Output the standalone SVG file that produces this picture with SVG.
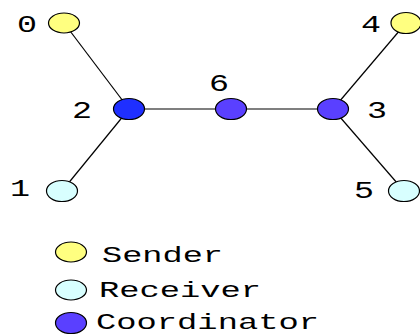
<svg xmlns="http://www.w3.org/2000/svg" width="420" height="336" viewBox="0 0 420 336">
  <style>
    .edge { stroke: #000; stroke-width: 1.2; fill: none; }
    .node { stroke: #000; stroke-width: 1.2; }
    .sender { fill: #ffff80; }
    .receiver { fill: #d8ffff; }
    .coord { fill: #5a40ff; }
    .hub { fill: #1f2fff; }
    .lbl { font-family: "Liberation Mono", "Courier New", monospace; font-size: 24px; fill: #000; }
    .leg { font-family: "Liberation Mono", "Courier New", monospace; font-size: 22px; fill: #000; }
  </style>
  <rect width="420" height="336" fill="#fff"/>
  <g id="edges">
    <line class="edge" x1="64" y1="23" x2="129" y2="109"/>
    <line class="edge" x1="62" y1="191" x2="129" y2="109"/>
    <line class="edge" x1="129" y1="109" x2="231" y2="109"/>
    <line class="edge" x1="231" y1="109" x2="333" y2="109"/>
    <line class="edge" x1="333" y1="109" x2="406" y2="23"/>
    <line class="edge" x1="333" y1="109" x2="404" y2="191"/>
  </g>
  <g id="node0">
    <ellipse class="node sender" cx="64" cy="23" rx="15.5" ry="10"/>
    <text class="lbl" x="17" y="32" textLength="20" lengthAdjust="spacingAndGlyphs">0</text>
  </g>
  <g id="node1">
    <ellipse class="node receiver" cx="62" cy="191" rx="15.5" ry="10.5"/>
    <text class="lbl" x="10" y="196" textLength="20" lengthAdjust="spacingAndGlyphs">1</text>
  </g>
  <g id="node2">
    <ellipse class="node hub" cx="129" cy="109" rx="15.5" ry="10.5"/>
    <text class="lbl" x="72" y="118" textLength="20" lengthAdjust="spacingAndGlyphs">2</text>
  </g>
  <g id="node6">
    <ellipse class="node coord" cx="231" cy="109" rx="15.5" ry="10.5"/>
    <text class="lbl" x="209" y="91" textLength="20" lengthAdjust="spacingAndGlyphs">6</text>
  </g>
  <g id="node3">
    <ellipse class="node coord" cx="333" cy="109" rx="15.5" ry="10.5"/>
    <text class="lbl" x="367" y="118" textLength="20" lengthAdjust="spacingAndGlyphs">3</text>
  </g>
  <g id="node4">
    <ellipse class="node sender" cx="406" cy="23" rx="15" ry="10.5"/>
    <text class="lbl" x="361" y="32" textLength="20" lengthAdjust="spacingAndGlyphs">4</text>
  </g>
  <g id="node5">
    <ellipse class="node receiver" cx="404" cy="191" rx="15.5" ry="10.5"/>
    <text class="lbl" x="354" y="198" textLength="20" lengthAdjust="spacingAndGlyphs">5</text>
  </g>
  <g id="legend">
    <ellipse class="node sender" cx="71" cy="252" rx="15.5" ry="10"/>
    <text class="leg" x="102" y="262" textLength="121" lengthAdjust="spacingAndGlyphs">Sender</text>
    <ellipse class="node receiver" cx="71" cy="290" rx="15.5" ry="10"/>
    <text class="leg" x="99" y="297" textLength="162" lengthAdjust="spacingAndGlyphs">Receiver</text>
    <ellipse class="node coord" cx="71" cy="323" rx="15.5" ry="10.5"/>
    <text class="leg" x="96" y="329" textLength="223" lengthAdjust="spacingAndGlyphs">Coordinator</text>
  </g>
</svg>
